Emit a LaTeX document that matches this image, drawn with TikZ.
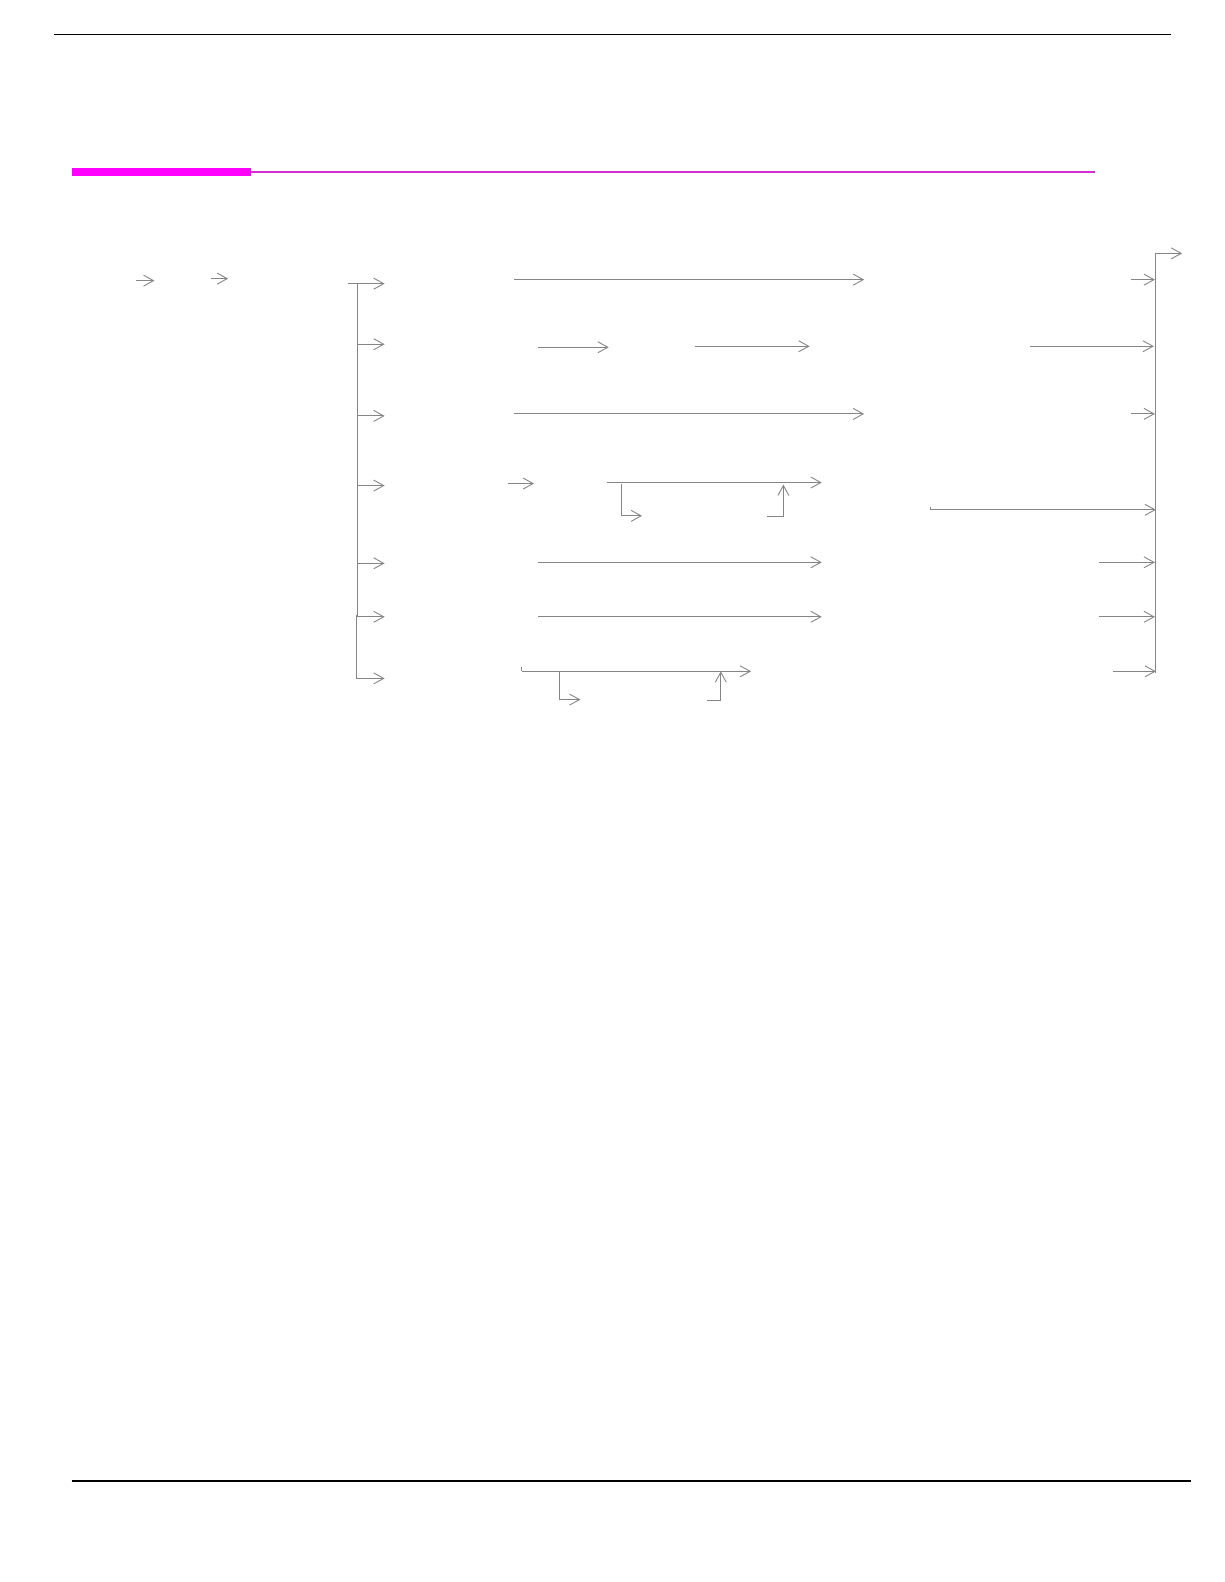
\documentclass[tikz,border=0pt]{standalone}
\usetikzlibrary{arrows.meta}
\definecolor{linegray}{HTML}{858585}
\definecolor{magthick}{HTML}{FF00FF}
\definecolor{magthin}{HTML}{D02ED0}
\tikzset{
  conn/.style={draw=linegray, line width=1pt},
  arr/.style={conn, -{Straight Barb[length=10pt,width=11pt,line width=0.9pt]}},
  rule/.style={draw=black, line width=1.4pt},
}
\begin{document}
\begin{tikzpicture}[x=1.0095pt,y=-1.0095pt]
\useasboundingbox (0pt,0pt) rectangle (1224pt,-1582pt);
% page rules
\draw[rule] (53,34) -- (1160,34);
\draw[rule] (71,1467) -- (1180,1467);
% heading bar
\fill[magthick] (71,166) rectangle (249,174);
\draw[magthin, line width=2.2pt] (249,170) -- (1085,170);

% leading arrows
\draw[arr] (135,278) -- (153,278);
\draw[arr] (209,276) -- (226,276);

% left bus
\coordinate (busTop) at (354,281);
\coordinate (busBot) at (354,672);
\draw[conn] (345,281) -- (busTop) -- (354,610) -- (353,610) -- (353,672);
\foreach \y in {281,341,412,481,558,611}
  \draw[arr] (354,\y) -- (381,\y);
\draw[arr] (353,672) -- (381,672);

% right bus
\coordinate (rbTop) at (1145,251);
\coordinate (rbBot) at (1145,667);
\draw[conn] (rbBot) -- (rbTop);
\draw[arr] (rbTop) -- (1171,251);

% row 1
\draw[arr] (509,277) -- (856,277);
\draw[arr] (1120,277) -- (1144,277);
% row 2
\draw[arr] (533,344) -- (603,344);
\draw[arr] (688,343) -- (802,343);
\draw[arr] (1020,343) -- (1143,343);
% row 3
\draw[arr] (509,410) -- (856,410);
\draw[arr] (1120,410) -- (1144,410);
% row 4
\draw[arr] (503,479) -- (529,479);
\draw[arr] (601,478) -- (814,478);
\draw[arr] (616,479) -- (616,511) -- (636,511);
\draw[arr] (760,512) -- (776,512) -- (776,480);
\draw[conn] (922,502) -- (922,505);
\draw[arr] (922,505) -- (1145,505);
% row 5
\draw[arr] (533,557) -- (814,557);
\draw[arr] (1089,557) -- (1144,557);
% row 6
\draw[arr] (533,611) -- (814,611);
\draw[arr] (1089,611) -- (1144,611);
% row 7
\draw[conn] (517,661) -- (517,665);
\draw[arr] (517,665) -- (744,665);
\draw[arr] (554,665) -- (554,693) -- (575,693);
\draw[arr] (700,694) -- (714,694) -- (714,665);
\draw[arr] (1103,665) -- (1145,665);
\end{tikzpicture}
\end{document}
